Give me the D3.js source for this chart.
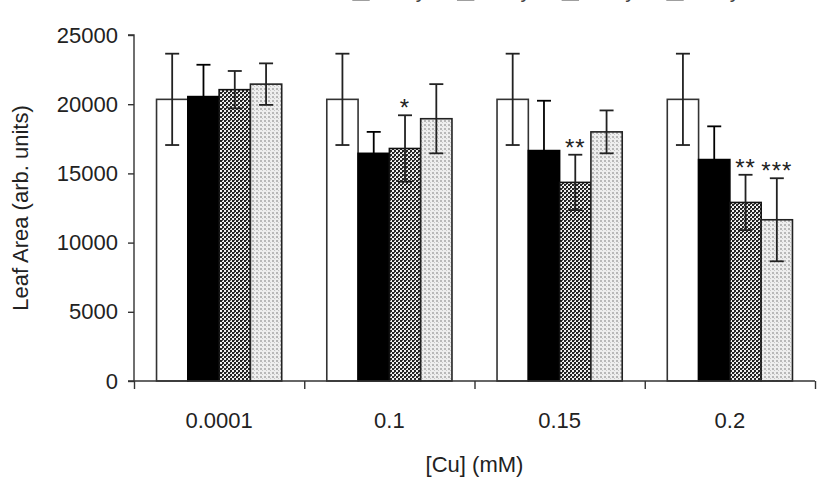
<!DOCTYPE html>
<html lang="en">
  <head>
    <meta charset="utf-8">
    <title>Leaf area vs Cu</title>
    <script type="text/javascript" src="https://cdn.jsdelivr.net/npm/d3@7"></script>
    <style>
      body { margin: 0; background: #fff; }
      text { font-family: "Liberation Sans", Arial, sans-serif; }
    </style>
  </head>
  <body>
    <script type="text/javascript">
      var width = 819;
      var height = 480;

      // data
      var categories = ["0.0001", "0.1", "0.15", "0.2"];
      var series = ["0 day", "1 day", "2 day", "3 day"];
      var means = [
        [20350, 20550, 21050, 21450],
        [20350, 16450, 16800, 18950],
        [20350, 16650, 14350, 18000],
        [20350, 16000, 12900, 11650]
      ];
      var errors = [
        [3300, 2300, 1350, 1500],
        [3300, 1550, 2400, 2500],
        [3300, 3600, 2000, 1550],
        [3300, 2400, 2000, 3000]
      ];
      var stars = [
        ["", "", "", ""],
        ["", "", "*", ""],
        ["", "", "**", ""],
        ["", "", "**", "***"]
      ];
      var yTicks = [0, 5000, 10000, 15000, 20000, 25000];

      var plotLeft = 134, plotRight = 815, plotTop = 35, plotBottom = 381;
      var fontSize = "22px";

      var xScale = d3.scaleBand()
                     .domain(categories)
                     .range([plotLeft, plotRight]);
      var subScale = d3.scaleBand()
                     .domain(series)
                     .range([0, xScale.bandwidth()])
                     .paddingOuter(0.72);
      var yScale = d3.scaleLinear()
                     .domain([0, 25000])
                     .range([plotBottom, plotTop]);

      var svg = d3.select("body")
            .append("svg")
            .attr("width", width)
            .attr("height", height);

      // fill patterns
      var defs = svg.append("defs");
      var dark = defs.append("pattern")
          .attr("id", "dark")
          .attr("width", 4).attr("height", 4)
          .attr("patternUnits", "userSpaceOnUse");
      dark.append("rect").attr("width", 4).attr("height", 4).attr("fill", "#eee");
      dark.append("rect").attr("width", 2).attr("height", 2).attr("fill", "#222");
      dark.append("rect").attr("x", 2).attr("y", 2).attr("width", 2).attr("height", 2).attr("fill", "#222");
      dark.append("rect").attr("x", 2).attr("y", 0).attr("width", 1).attr("height", 1).attr("fill", "#555");

      var light = defs.append("pattern")
          .attr("id", "light")
          .attr("width", 4).attr("height", 4)
          .attr("patternUnits", "userSpaceOnUse");
      light.append("rect").attr("width", 4).attr("height", 4).attr("fill", "#eee");
      light.append("rect").attr("width", 2).attr("height", 2).attr("fill", "#b8b8b8");
      light.append("rect").attr("x", 2).attr("y", 2).attr("width", 1).attr("height", 1).attr("fill", "#c8c8c8");

      var fills = ["#fff", "#000", "url(#dark)", "url(#light)"];
      var strokes = ["#333", "#000", "#111", "#222"];

      var rows = [];
      categories.forEach(function(c, i) {
        series.forEach(function(s, j) {
          rows.push({cat: c, ser: s, j: j, v: means[i][j], e: errors[i][j], star: stars[i][j]});
        });
      });

      // bars
      svg.selectAll("rect.bar")
         .data(rows)
         .enter()
         .append("rect")
         .attr("class", "bar")
         .attr("x", function(d) { return xScale(d.cat) + subScale(d.ser); })
         .attr("y", function(d) { return yScale(d.v); })
         .attr("width", subScale.bandwidth())
         .attr("height", function(d) { return yScale(0) - yScale(d.v); })
         .attr("fill", function(d) { return fills[d.j]; })
         .attr("stroke", function(d) { return strokes[d.j]; })
         .attr("stroke-width", 1.6);

      // error bars
      var eb = svg.selectAll("g.err")
         .data(rows)
         .enter()
         .append("g")
         .attr("class", "err")
         .attr("stroke", function(d) { return d.j === 1 ? "#000" : "#222"; })
         .attr("stroke-width", 1.8);
      function cx(d) { return xScale(d.cat) + subScale(d.ser) + subScale.bandwidth() / 2; }
      eb.append("line")
         .attr("x1", cx).attr("x2", cx)
         .attr("y1", function(d) { return yScale(d.v + d.e); })
         .attr("y2", function(d) { return yScale(d.v - d.e); });
      eb.append("line")
         .attr("x1", function(d) { return cx(d) - 7; })
         .attr("x2", function(d) { return cx(d) + 7; })
         .attr("y1", function(d) { return yScale(d.v + d.e); })
         .attr("y2", function(d) { return yScale(d.v + d.e); });
      eb.append("line")
         .attr("x1", function(d) { return cx(d) - 7; })
         .attr("x2", function(d) { return cx(d) + 7; })
         .attr("y1", function(d) { return yScale(d.v - d.e); })
         .attr("y2", function(d) { return yScale(d.v - d.e); });

      // significance stars
      svg.selectAll("text.star")
         .data(rows.filter(function(d) { return d.star; }))
         .enter()
         .append("text")
         .attr("class", "star")
         .text(function(d) { return d.star; })
         .attr("x", cx)
         .attr("y", function(d) { return yScale(d.v + d.e) + 1; })
         .attr("text-anchor", "middle")
         .attr("font-size", "24px")
         .attr("letter-spacing", "1px")
         .attr("fill", "#222");

      // axes
      var yAxis = d3.axisLeft(yScale).tickValues(yTicks).tickSize(6).tickPadding(10)
                    .tickFormat(d3.format("d"));
      var gy = svg.append("g")
         .attr("transform", "translate(" + plotLeft + ",0)")
         .call(yAxis);
      gy.select(".domain").attr("d", "M-6," + plotTop + "H0V" + plotBottom + "H-6");

      var xAxis = d3.axisBottom(d3.scaleLinear().domain([0, 4]).range([plotLeft, plotRight]))
                    .tickValues([0, 1, 2, 3, 4]).tickSize(8).tickFormat("");
      var gx = svg.append("g")
         .attr("transform", "translate(0," + plotBottom + ")")
         .call(xAxis);
      gx.select(".domain").attr("d", "M" + plotLeft + ",0H" + plotRight);

      svg.selectAll(".domain, .tick line")
         .attr("stroke", "#333").attr("stroke-width", 1.4);
      gy.selectAll("text").attr("font-size", fontSize).attr("fill", "#222")
         .attr("font-family", "Liberation Sans, Arial, sans-serif");

      svg.selectAll("text.xlab")
         .data(categories)
         .enter()
         .append("text")
         .attr("class", "xlab")
         .text(function(d) { return d; })
         .attr("x", function(d) { return xScale(d) + xScale.bandwidth() / 2; })
         .attr("y", 428)
         .attr("text-anchor", "middle")
         .attr("font-size", fontSize)
         .attr("fill", "#222");

      svg.append("text")
         .text("[Cu] (mM)")
         .attr("x", (plotLeft + plotRight) / 2)
         .attr("y", 472)
         .attr("text-anchor", "middle")
         .attr("font-size", fontSize)
         .attr("fill", "#222");

      svg.append("text")
         .text("Leaf Area (arb. units)")
         .attr("transform", "translate(28," + (plotTop + plotBottom) / 2 + ") rotate(-90)")
         .attr("text-anchor", "middle")
         .attr("font-size", fontSize)
         .attr("fill", "#222");

      // legend, mostly cut off by the top edge
      var legX = d3.scaleLinear().domain([0, 3]).range([353, 667]);
      var leg = svg.selectAll("g.leg")
         .data(series)
         .enter()
         .append("g")
         .attr("class", "leg")
         .attr("transform", function(d, i) { return "translate(" + legX(i) + ",0)"; });
      leg.append("rect")
         .attr("x", 0).attr("y", -15)
         .attr("width", 16).attr("height", 15)
         .attr("fill", function(d, i) { return fills[i]; })
         .attr("stroke", "#777").attr("stroke-width", 1.4);
      leg.append("text")
         .text(function(d) { return d; })
         .attr("x", 20).attr("y", -3)
         .attr("font-size", fontSize)
         .attr("fill", "#444");
    </script>
  </body>
</html>
